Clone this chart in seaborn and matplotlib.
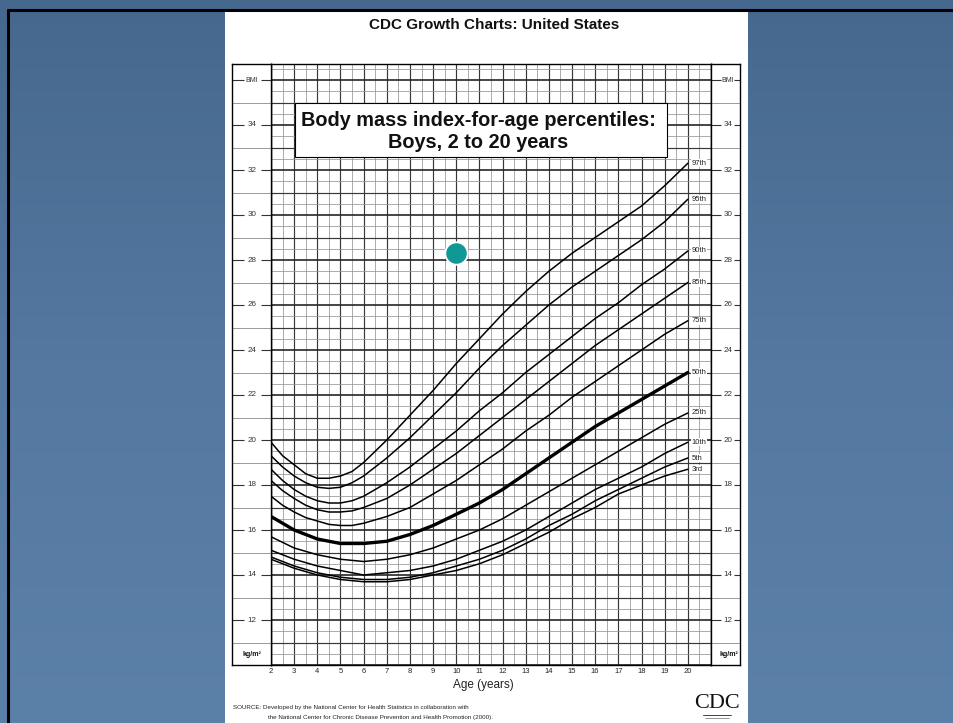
import numpy as np
import pandas as pd
import matplotlib
matplotlib.use("Agg")
import matplotlib.pyplot as plt
import seaborn as sns
from matplotlib.patches import Rectangle
from matplotlib.colors import LinearSegmentedColormap

# ---------------- data ----------------
ages = [2, 2.5, 3, 3.5, 4, 4.5, 5, 5.5, 6, 6.5, 7, 7.5, 8,
        9, 10, 11, 12, 13, 14, 15, 16, 17, 18, 19, 20]
p3 = [14.7, 14.5, 14.3, 14.15, 14.0, 13.9, 13.8, 13.75, 13.7, 13.7, 13.7, 13.75, 13.8,
      14.0, 14.2, 14.5, 14.9, 15.4, 15.9, 16.5, 17.0, 17.6, 18.0, 18.4, 18.7]
p5 = [14.8, 14.6, 14.4, 14.25, 14.1, 14.0, 13.9, 13.85, 13.8, 13.8, 13.8, 13.85, 13.9,
      14.1, 14.4, 14.7, 15.1, 15.6, 16.2, 16.7, 17.3, 17.8, 18.3, 18.8, 19.2]
p10 = [15.1, 14.9, 14.7, 14.55, 14.4, 14.3, 14.2, 14.1, 14.0, 14.05, 14.1, 14.15, 14.2,
       14.4, 14.7, 15.1, 15.5, 16.0, 16.6, 17.2, 17.8, 18.3, 18.8, 19.4, 19.9]
p25 = [15.7, 15.45, 15.2, 15.05, 14.9, 14.8, 14.7, 14.65, 14.6, 14.65, 14.7, 14.8, 14.9,
       15.2, 15.6, 16.0, 16.5, 17.1, 17.7, 18.3, 18.9, 19.5, 20.1, 20.7, 21.2]
p50 = [16.6, 16.3, 16.0, 15.8, 15.6, 15.5, 15.4, 15.4, 15.4, 15.45, 15.5, 15.65, 15.8,
       16.2, 16.7, 17.2, 17.8, 18.5, 19.2, 19.9, 20.6, 21.2, 21.8, 22.4, 23.0]
p75 = [17.5, 17.1, 16.8, 16.55, 16.4, 16.25, 16.2, 16.2, 16.3, 16.45, 16.6, 16.8, 17.0,
       17.6, 18.2, 18.9, 19.6, 20.4, 21.1, 21.9, 22.6, 23.3, 24.0, 24.7, 25.3]
p85 = [18.2, 17.75, 17.4, 17.1, 16.9, 16.8, 16.8, 16.85, 17.0, 17.2, 17.4, 17.7, 18.0,
       18.7, 19.4, 20.2, 21.0, 21.8, 22.6, 23.4, 24.2, 24.9, 25.6, 26.3, 27.0]
p90 = [18.7, 18.2, 17.8, 17.5, 17.3, 17.2, 17.2, 17.3, 17.5, 17.8, 18.1, 18.45, 18.8,
       19.6, 20.4, 21.3, 22.1, 23.0, 23.8, 24.6, 25.4, 26.1, 26.9, 27.6, 28.4]
p95 = [19.3, 18.8, 18.4, 18.1, 17.9, 17.85, 17.9, 18.1, 18.4, 18.8, 19.2, 19.65, 20.1,
       21.1, 22.1, 23.2, 24.2, 25.1, 26.0, 26.8, 27.5, 28.2, 28.9, 29.7, 30.7]
p97 = [19.9, 19.3, 18.9, 18.5, 18.3, 18.3, 18.4, 18.6, 19.0, 19.5, 20.0, 20.55, 21.1,
       22.2, 23.4, 24.5, 25.6, 26.6, 27.5, 28.3, 29.0, 29.7, 30.4, 31.3, 32.3]
percentile_names = ["3rd", "5th", "10th", "25th", "50th", "75th", "85th", "90th", "95th", "97th"]
series = [p3, p5, p10, p25, p50, p75, p85, p90, p95, p97]
x_tick_labels = [str(a) for a in range(2, 21)]
y_tick_values = list(range(12, 35, 2))
point_age = [10]
point_bmi = [28.3]

df = pd.DataFrame(
    [{"age": a, "bmi": v, "pct": name}
     for name, vals in zip(percentile_names, series)
     for a, v in zip(ages, vals)]
)

# ---------------- style ----------------
sns.set_theme(style="white")
plt.rcParams["font.family"] = ["Liberation Sans", "DejaVu Sans"]

W, H = 954, 723
fig = plt.figure(figsize=(W / 100, H / 100), dpi=100)


def fx(px):
    return px / W


def fy(py):
    return 1 - py / H


# background slide
bg = fig.add_axes([0, 0, 1, 1], zorder=-10)
grad = np.linspace(0, 1, 256).reshape(-1, 1)
cmap = LinearSegmentedColormap.from_list("bgblue", ["#46688e", "#5478a0", "#5c81a9"])
bg.imshow(grad, aspect="auto", cmap=cmap, extent=[0, 1, 0, 1], origin="upper")
bg.set_xlim(0, 1)
bg.set_ylim(0, 1)
bg.axis("off")
bg.add_patch(Rectangle((fx(225), 0), fx(748) - fx(225), fy(11), facecolor="white", edgecolor="none"))
bg.plot([fx(7), 1], [fy(10), fy(10)], color="black", lw=2.2, solid_capstyle="butt")
bg.plot([fx(8), fx(8)], [fy(9), 0], color="black", lw=2.2, solid_capstyle="butt")

# main grid axes
L, R, T, B = 271, 711, 64.25, 665
YMIN, YMAX = 10, 36.7
ax = fig.add_axes([fx(L), fy(B), fx(R) - fx(L), (B - T) / H])
ax.set_facecolor("white")
ax.set_xlim(2, 21)
ax.set_ylim(YMIN, YMAX)
ax.set_axisbelow(True)
ax.set_xticks(list(range(2, 22)))
ax.set_xticks(list(np.arange(2.5, 21, 1)), minor=True)
ax.set_yticks(list(range(10, 37)))
ax.set_yticks(list(np.arange(10.5, 36.6, 1)), minor=True)
ax.grid(which="major", color="#383838", lw=0.85)
ax.grid(which="minor", color="#959595", lw=0.55)
for val, gl in zip(range(10, 37), ax.get_ygridlines()):
    if val % 2 == 0:
        gl.set_linewidth(1.2)
        gl.set_color("#262626")
ax.set_xticklabels(x_tick_labels + [""], fontsize=5.5, color="#222")
ax.tick_params(axis="x", which="both", length=0, pad=2.5)
ax.tick_params(axis="y", which="both", length=0, labelleft=False)
for s in ax.spines.values():
    s.set_color("black")
    s.set_linewidth(1.0)

for name in percentile_names:
    sub = df[df["pct"] == name]
    sns.lineplot(data=sub, x="age", y="bmi", color="black",
                 lw=2.4 if name == "50th" else 1.1, ax=ax, legend=False,
                 estimator=None, zorder=3)
    last = sub["bmi"].iloc[-1]
    ax.text(20.15, last, name, fontsize=5.5, ha="left", va="center", color="#222",
            zorder=4, bbox=dict(facecolor="white", edgecolor="none", pad=0.4))
ax.set_xlabel("")
ax.set_ylabel("")

# title box
ax.add_patch(Rectangle((3.04, 32.58), 16.06, 2.42, facecolor="white",
                       edgecolor="black", lw=0.8, zorder=4))
fig.text(fx(478), fy(120), "Body mass index-for-age percentiles:", ha="center",
         va="center", fontsize=14.3, fontweight="bold", color="#111")
fig.text(fx(478), fy(143), "Boys, 2 to 20 years", ha="center", va="center",
         fontsize=14.3, fontweight="bold", color="#111")

# highlighted point
sns.scatterplot(x=point_age, y=point_bmi, s=260, color="#0f9896", edgecolor="white",
                linewidth=1.3, ax=ax, zorder=6, legend=False)

# side label columns
for left, right, lab, d1, d2 in [(232, 271, 0.51, 0.30, 0.74), (711, 740, 0.58, 0.36, 0.80)]:
    cax = fig.add_axes([fx(left), fy(B), fx(right) - fx(left), (B - T) / H])
    cax.set_facecolor("white")
    cax.set_xlim(0, 1)
    cax.set_ylim(YMIN, YMAX)
    cax.set_xticks([])
    cax.set_yticks([])
    for s in cax.spines.values():
        s.set_color("black")
        s.set_linewidth(1.0)
    cax.hlines(list(range(11, 36, 2)), 0, 1, color="#8a8a8a", lw=0.6)
    for v in y_tick_values + [36]:
        cax.hlines(v, 0, d1, color="#333", lw=0.8)
        cax.hlines(v, d2, 1, color="#333", lw=0.8)
        cax.text(lab, v, "BMI" if v == 36 else str(v), ha="center", va="center",
                 fontsize=5.8 if v != 36 else 5.0, color="#333")
    cax.text(lab if left < 500 else 0.62, 10.45, "kg/m²", ha="center", va="center",
             fontsize=5.0, fontweight="bold", color="#111")

# texts
fig.text(fx(494), fy(25), "CDC Growth Charts: United States", ha="center", va="center",
         fontsize=11, fontweight="bold", color="#111")
fig.text(fx(483), fy(685), "Age (years)", ha="center", va="center", fontsize=8.5, color="#222")
fig.text(fx(233), fy(708), "SOURCE: Developed by the National Center for Health Statistics in collaboration with",
         ha="left", va="center", fontsize=4.5, color="#222")
fig.text(fx(268), fy(717), "the National Center for Chronic Disease Prevention and Health Promotion (2000).",
         ha="left", va="center", fontsize=4.5, color="#222")
fig.text(fx(717), fy(703), "CDC", ha="center", va="center", fontsize=16,
         family=["Liberation Serif", "DejaVu Serif"], color="#111")
bg.plot([fx(703), fx(731)], [fy(715), fy(715)], color="#222", lw=0.6)
bg.plot([fx(705), fx(729)], [fy(718), fy(718)], color="#444", lw=0.4)

fig.savefig("out.png", dpi=100)
